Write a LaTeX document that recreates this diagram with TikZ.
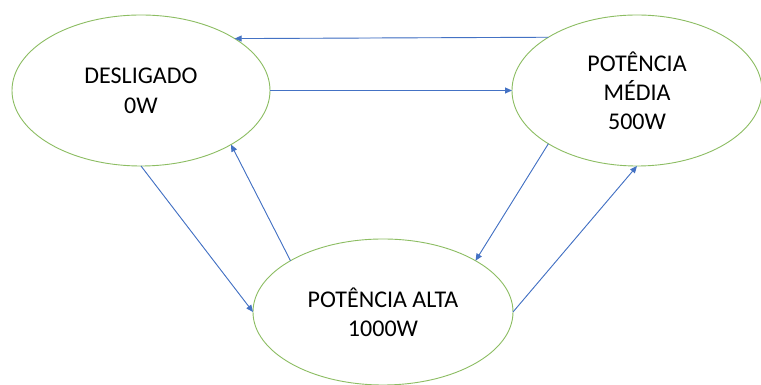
\documentclass[tikz,border=0pt]{standalone}
\usepackage{fontspec}
\setmainfont{Carlito}
\usepackage{tikz}
\usetikzlibrary{arrows.meta,shapes.geometric}
\definecolor{Leaf}{HTML}{8CBD62}
\definecolor{Azure}{HTML}{4472C4}
\tikzset{
  >={Triangle[length=7pt,width=6pt]},
  estado/.style={ellipse,draw=Leaf,line width=.9pt,fill=white,inner sep=0pt,outer sep=0pt,align=center},
  trans/.style={->,line width=.9pt,draw=Azure,fill=Azure}
}

\begin{document}
\begin{tikzpicture}[x=1pt,y=1pt]
        \path[fill=white,use as bounding box] (0,0) rectangle (761,385);

        \node[estado,minimum width=258pt,minimum height=151pt,font=\fontsize{24}{30}\selectfont] (desl) at (141,294.5) {DESLIGADO\\0W};
        \node[estado,minimum width=250pt,minimum height=151pt,font=\fontsize{24}{29}\selectfont] (media) at (637,294.5) {POTÊNCIA\\MÉDIA\\500W};
        \node[estado,minimum width=260pt,minimum height=146pt,font=\fontsize{24}{29}\selectfont] (alta) at (383,73) {POTÊNCIA ALTA\\1000W};

        \draw[trans] (media.149.7)--(desl.29.5);
        \draw[trans] (desl.east)--(media.west);
        \draw[trans] (desl.south)--(alta.west);
        \draw[trans] (alta.151)--(desl.-31);
        \draw[trans] (media.211.3)--(alta.29.5);
        \draw[trans] (alta.east)--(media.south);
      \end{tikzpicture}
\end{document}
